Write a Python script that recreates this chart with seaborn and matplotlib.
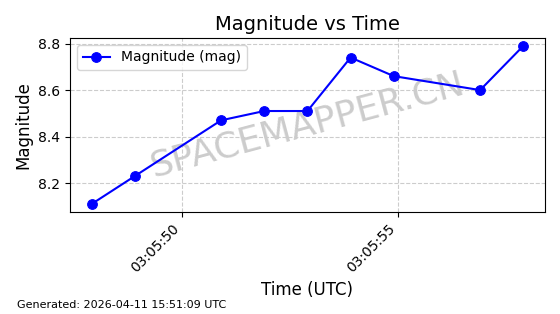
import matplotlib
matplotlib.use("Agg")
import matplotlib.pyplot as plt
import matplotlib.dates as mdates
import seaborn as sns
import pandas as pd

times = ["2026-04-11 03:05:47.9", "2026-04-11 03:05:48.9", "2026-04-11 03:05:50.9",
         "2026-04-11 03:05:51.9", "2026-04-11 03:05:52.9", "2026-04-11 03:05:53.9",
         "2026-04-11 03:05:54.9", "2026-04-11 03:05:56.9", "2026-04-11 03:05:57.9"]
magnitudes = [8.11, 8.23, 8.47, 8.51, 8.51, 8.74, 8.66, 8.60, 8.79]

df = pd.DataFrame({"time": pd.to_datetime(times), "mag": magnitudes})

fig = plt.figure(figsize=(5.6, 3.14), dpi=100)
ax = fig.add_axes([0.125, 0.325, 0.848, 0.554])

sns.lineplot(data=df, x="time", y="mag", ax=ax, color="blue", marker="o",
             markersize=7, markeredgecolor="blue", linewidth=1.5,
             label="Magnitude (mag)", zorder=3)

ax.xaxis.set_major_locator(mdates.SecondLocator(bysecond=range(0, 60, 5)))
ax.xaxis.set_major_formatter(mdates.DateFormatter("%H:%M:%S"))
plt.setp(ax.get_xticklabels(), rotation=45, ha="right")

ax.set_title("Magnitude vs Time", fontsize=14)
ax.set_xlabel("Time (UTC)", fontsize=12)
ax.set_ylabel("Magnitude", fontsize=12)
ax.grid(True, linestyle="--", color="#cccccc", linewidth=0.8)
ax.legend(loc="upper left")

ax.text(0.5, 0.5, "SPACEMAPPER.CN", transform=ax.transAxes, fontsize=26,
        color="gray", alpha=0.4, rotation=15, ha="center", va="center", zorder=1)

fig.text(0.03, 0.02, "Generated: 2026-04-11 15:51:09 UTC", fontsize=8)

fig.savefig("out.png", dpi=100)
